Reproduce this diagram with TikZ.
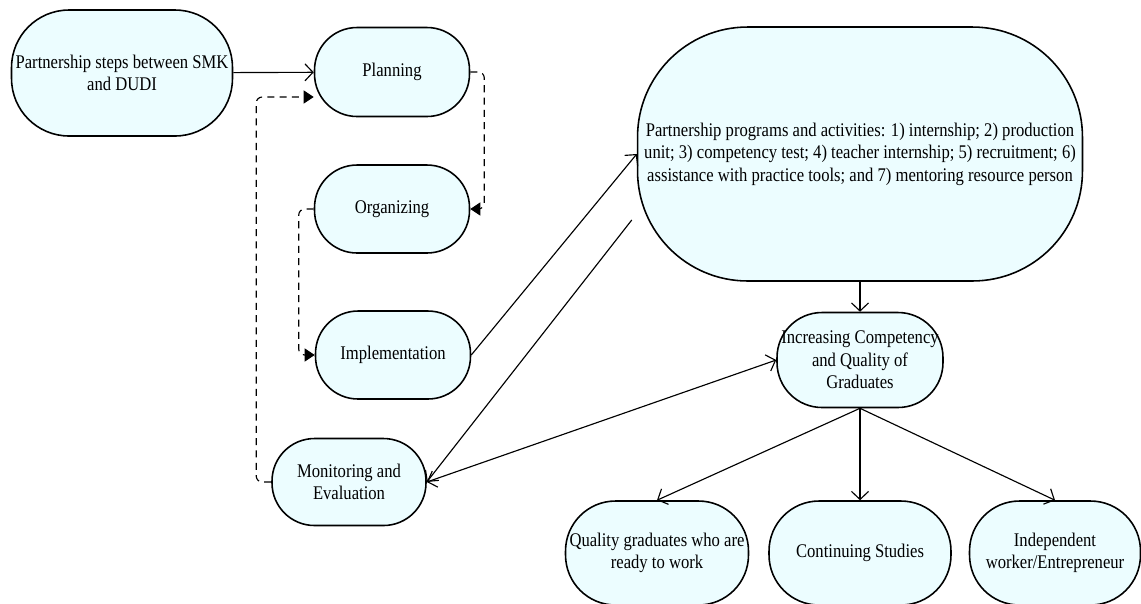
\documentclass[tikz,border=0pt]{standalone}
\usepackage{fontspec}
\setmainfont{Liberation Serif}[FakeStretch=0.86]
\usetikzlibrary{arrows.meta}
\definecolor{boxfill}{RGB}{236,253,255}

\begin{document}
\begin{tikzpicture}[x=0.02cm, y=-0.02cm, ->, >={Straight Barb[length=1.6mm,width=3.4mm]}, line width=0.65pt,
  main node/.style={rectangle, draw, line width=0.9pt, fill=boxfill, align=center, inner sep=0pt, rounded corners=0.85cm},
  loop line/.style={dashed, dash pattern=on 4pt off 3pt, rounded corners=0.12cm, -{Triangle[length=2mm,width=2.6mm]}}]
        \tikzstyle{every node}=[font=\fontsize{11}{12.8}\selectfont]
        \useasboundingbox (0,0) rectangle (1141,603);

          \node[main node, minimum width=4.42cm, minimum height=2.52cm, rounded corners=1.15cm] (1) at (122,73) {Partnership steps between SMK\\and DUDI};
          \node[main node, minimum width=3.1cm, minimum height=1.78cm] (2) at (392,72) {Planning};
          \node[main node, minimum width=3.1cm, minimum height=1.76cm] (3) at (392,209) {Organizing};
          \node[main node, minimum width=3.1cm, minimum height=1.76cm] (4) at (393,355) {Implementation};
          \node[main node, minimum width=3.08cm, minimum height=1.74cm] (5) at (349,482) {Monitoring and\\Evaluation};
          \node[main node, minimum width=8.9cm, minimum height=5.08cm, rounded corners=2.2cm] (6) at (860,154) {Partnership programs and activities: 1) internship; 2) production\\unit; 3) competency test; 4) teacher internship; 5) recruitment; 6)\\assistance with practice tools; and 7) mentoring resource person};
          \node[main node, minimum width=3.32cm, minimum height=1.9cm, rounded corners=0.9cm] (7) at (860,360) {Increasing Competency\\and Quality of\\Graduates};
          \node[main node, minimum width=3.66cm, minimum height=2.08cm, rounded corners=1cm] (8) at (657,553) {Quality graduates who are\\ready to work};
          \node[main node, minimum width=3.64cm, minimum height=2.08cm, rounded corners=1cm] (9) at (860,553) {Continuing Studies};
          \node[main node, minimum width=3.42cm, minimum height=2.08cm, rounded corners=1cm] (10) at (1055,553) {Independent\\worker/Entrepreneur};

          % steps loop
          \draw[loop line] (2.east) -- ++(14,0) |- (3.east);
          \draw[loop line] (3.west) -- ++(-15,0) |- (4.west);
          \draw[loop line] (5.west) -- ++(-15,0) |- ([yshift=-0.5cm]2.west);

          \path (1) edge (2)
                (4.east) edge (6.west)
                ([xshift=-0.1cm, yshift=-1.32cm]6.west) edge (5.east)
                (5.east) edge[<->] (7.west)
                (6.south) edge (7.north)
                (7.south) edge (8.north)
                          edge (9.north)
                          edge (10.north);

        \end{tikzpicture}
\end{document}
